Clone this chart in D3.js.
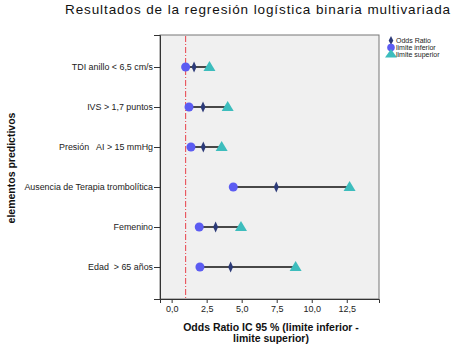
<!DOCTYPE html>
<html><head><meta charset="utf-8">
<script src="https://cdn.jsdelivr.net/npm/d3@7"></script>
<style>body{margin:0;background:#fff;}svg{display:block;font-family:Arial,"Liberation Sans",sans-serif;}</style>
</head><body><svg id="c" width="454" height="346"></svg>
<script>
const categories = ["TDI anillo < 6,5 cm/s","IVS > 1,7 puntos","Presión   AI > 15 mmHg","Ausencia de Terapia trombolítica","Femenino","Edad  > 65 años"];
const oddsRatio = [1.6, 2.24, 2.26, 7.47, 3.14, 4.21];
const lower = [1.0, 1.24, 1.38, 4.4, 1.97, 2.02];
const upper = [2.7, 4.0, 3.57, 12.7, 4.95, 8.85];
const xTicks = [0, 2.5, 5, 7.5, 10, 12.5];
const refLine = 1;
const legendLabels = ["Odds Ratio","limite inferior","limite superior"];

const svg = d3.select("#c");
const L = 160, R = 379, T = 35, B = 299;
const x = d3.scaleLinear().domain([-0.83, 14.8]).range([L, R]);
const y = d3.scalePoint().domain(categories).range([T, B]).padding(0.8);

svg.append("text").attr("x", 258).attr("y", 14).attr("text-anchor","middle")
  .attr("font-size", 13.5).attr("letter-spacing", 0.9).attr("fill","#111")
  .text("Resultados de la regresión logística binaria multivariada");

svg.append("rect").attr("x", L).attr("y", T).attr("width", R-L).attr("height", B-T)
  .attr("fill","#f0f0f0").attr("stroke","#777").attr("stroke-width",1);

// axes
const xa = svg.append("g").attr("transform",`translate(0,${B})`)
  .call(d3.axisBottom(x).tickValues(xTicks).tickFormat(d=>d3.format(".1f")(d).replace(".",",")).tickSize(4).tickPadding(3));
xa.select(".domain").attr("stroke","#333");
xa.selectAll("line").attr("stroke","#333");
xa.selectAll("text").attr("font-size",9).attr("fill","#222").attr("font-family","Arial, 'Liberation Sans', sans-serif");

const ya = svg.append("g").attr("transform",`translate(${L},0)`)
  .call(d3.axisLeft(y).tickSize(6).tickPadding(1));
ya.select(".domain").attr("stroke","#333");
ya.selectAll("line").attr("stroke","#333");
ya.selectAll("text").attr("font-size",8.9).attr("fill","#222").attr("font-family","Arial, 'Liberation Sans', sans-serif").style("white-space","pre");

// reference line
svg.append("line").attr("x1", x(refLine)).attr("x2", x(refLine)).attr("y1", T+1).attr("y2", B)
  .attr("stroke","#e8404a").attr("stroke-width",1).attr("stroke-dasharray","6,2,1,2");

const rows = categories.map((c,i)=>({c, or: oddsRatio[i], lo: lower[i], up: upper[i]}));
const g = svg.append("g");
g.selectAll("line.ci").data(rows).join("line").attr("class","ci")
  .attr("x1", d=>x(d.lo)).attr("x2", d=>x(d.up)).attr("y1", d=>y(d.c)).attr("y2", d=>y(d.c))
  .attr("stroke","#111").attr("stroke-width",1.5);

const triPath = "M0,-6 L6,4 L-6,4 Z";
const diaPath = "M0,-5.5 L2.5,0 L0,5.5 L-2.5,0 Z";
g.selectAll("path.up").data(rows).join("path").attr("class","up")
  .attr("d", triPath).attr("transform", d=>`translate(${x(d.up)},${y(d.c)})`).attr("fill","#3dbdbd");
g.selectAll("circle.lo").data(rows).join("circle").attr("class","lo")
  .attr("cx", d=>x(d.lo)).attr("cy", d=>y(d.c)).attr("r",4.5).attr("fill","#5c5cf2");
g.selectAll("path.or").data(rows).join("path").attr("class","or")
  .attr("d", diaPath).attr("transform", d=>`translate(${x(d.or)},${y(d.c)})`).attr("fill","#2c3a78");

// legend
const lg = svg.append("g");
const lx = 391;
lg.append("path").attr("d","M0,-4.5 L2.3,0 L0,4.5 L-2.3,0 Z").attr("transform",`translate(${lx},40.5)`).attr("fill","#2c3a78");
lg.append("circle").attr("cx", lx).attr("cy", 47.5).attr("r", 3.8).attr("fill","#5c5cf2");
lg.append("path").attr("d","M0,-5 L6,3.5 L-6,3.5 Z").attr("transform",`translate(${lx},54)`).attr("fill","#3dbdbd");
legendLabels.forEach((t,i)=>{
  lg.append("text").attr("x", 396).attr("y", 43.2 + i*7).attr("font-size",7).attr("fill","#222").text(t);
});

// axis titles
svg.append("text").attr("transform","translate(15,168) rotate(-90)").attr("text-anchor","middle")
  .attr("font-size",10.5).attr("font-weight","bold").attr("fill","#111").text("elementos predictivos");
svg.append("text").attr("x", 271).attr("y", 331).attr("text-anchor","middle")
  .attr("font-size",10.5).attr("font-weight","bold").attr("fill","#111").text("Odds Ratio IC 95 % (limite inferior -");
svg.append("text").attr("x", 271).attr("y", 342).attr("text-anchor","middle")
  .attr("font-size",10.5).attr("font-weight","bold").attr("fill","#111").text("limite superior)");
</script></body></html>
